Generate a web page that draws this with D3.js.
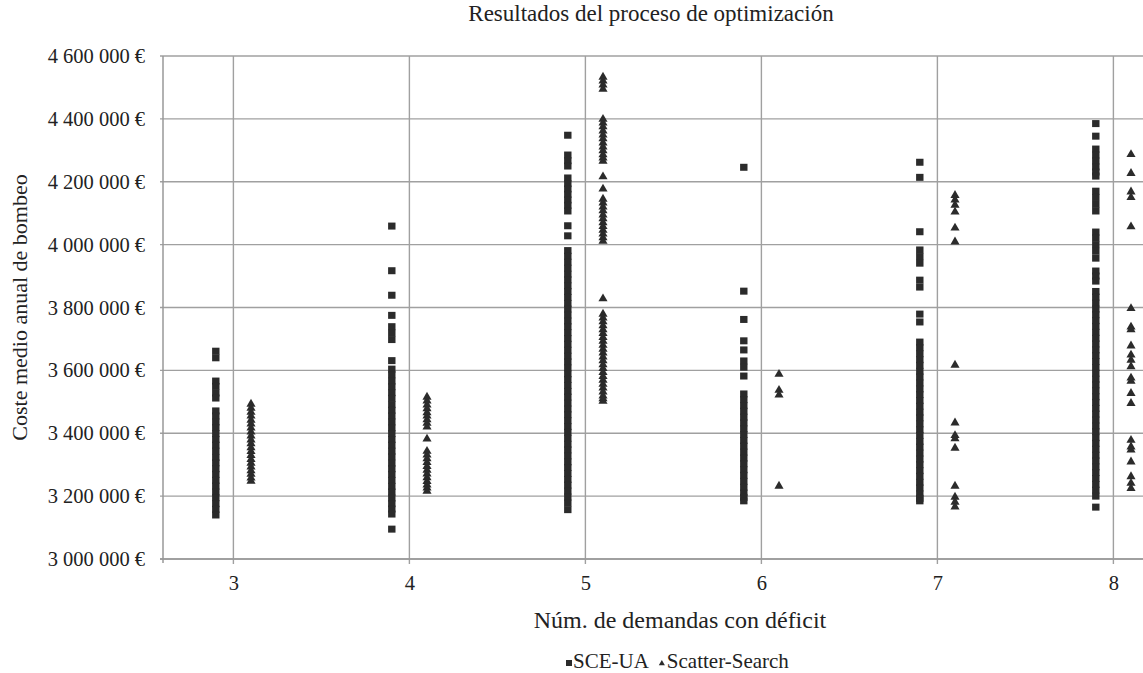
<!DOCTYPE html>
<html>
<head>
<meta charset="utf-8">
<script src="https://cdn.jsdelivr.net/npm/d3@7"></script>
<style>
  body { margin: 0; background: #fff; }
  text { font-family: "Liberation Serif", "Times New Roman", serif; fill: #222; }
</style>
</head>
<body>
<svg id="chart" width="1143" height="673"></svg>
<script>
// Values in thousands of euros
const categories = [3, 4, 5, 6, 7, 8];
const yTicks = [3000, 3200, 3400, 3600, 3800, 4000, 4200, 4400, 4600];

// SCE-UA is plotted a little left of each category, Scatter-Search a little right
const sceX = [2.9, 3.9, 4.9, 5.9, 6.9, 7.9];
const ssX = [3.1, 4.1, 5.1, 6.1, 7.1, 8.1];

const sce3 = [3661, 3640, 3566, 3549, 3528, 3512, 3471, 3455, 3436, 3418, 3399, 3380, 3362,
  3343, 3323, 3306, 3287, 3269, 3250, 3232, 3213, 3195, 3176, 3158, 3140];
const sce4 = [4059, 3917, 3839, 3775, 3739, 3719, 3698, 3631, 3604, 3586, 3566, 3548, 3529,
  3511, 3491, 3473, 3455, 3436, 3417, 3399, 3380, 3362, 3343, 3325, 3305, 3287, 3269, 3250,
  3231, 3213, 3194, 3176, 3159, 3143, 3095];
const sce5 = [4348, 4285, 4267, 4250, 4212, 4194, 4177, 4160, 4142, 4125, 4107, 4060, 4028,
  3981, 3963, 3944, 3925, 3906, 3888, 3869, 3851, 3832, 3813, 3795, 3776, 3757, 3739, 3720,
  3701, 3683, 3664, 3645, 3627, 3608, 3589, 3571, 3552, 3533, 3515, 3496, 3477, 3459, 3440,
  3421, 3403, 3384, 3365, 3347, 3328, 3309, 3291, 3272, 3253, 3235, 3216, 3197, 3178, 3157];
const sce6 = [4246, 3852, 3762, 3694, 3665, 3630, 3610, 3582, 3525, 3507, 3488, 3470, 3451,
  3433, 3414, 3396, 3377, 3359, 3340, 3321, 3303, 3284, 3266, 3247, 3228, 3210, 3196, 3185];
const sce7 = [4262, 4214, 4041, 3983, 3962, 3941, 3887, 3865, 3779, 3754, 3690, 3672, 3653,
  3634, 3616, 3597, 3579, 3560, 3541, 3523, 3504, 3486, 3467, 3449, 3430, 3411, 3393, 3374,
  3356, 3337, 3318, 3300, 3281, 3263, 3244, 3226, 3207, 3193, 3185];
const sce8 = [4385, 4345, 4304, 4285, 4266, 4247, 4231, 4218, 4170, 4150, 4128, 4107, 4040,
  4021, 4000, 3979, 3957, 3916, 3900, 3884, 3851, 3833, 3814, 3795, 3777, 3758, 3740, 3721,
  3702, 3684, 3665, 3647, 3628, 3609, 3591, 3572, 3554, 3535, 3516, 3498, 3479, 3461, 3442,
  3423, 3405, 3386, 3368, 3349, 3330, 3312, 3293, 3275, 3256, 3237, 3219, 3200, 3165];

const ss3 = [3493, 3480, 3467, 3455, 3442, 3430, 3417, 3404, 3392, 3379, 3367, 3354, 3342,
  3330, 3317, 3305, 3293, 3281, 3270, 3258, 3248];
const ss4 = [3515, 3503, 3490, 3478, 3466, 3455, 3443, 3432, 3420, 3382, 3343, 3331, 3319,
  3307, 3295, 3283, 3271, 3259, 3247, 3236, 3226, 3216];
const ss5 = [4533, 4521, 4508, 4495, 4399, 4387, 4375, 4362, 4349, 4337, 4324, 4311, 4299,
  4286, 4276, 4266, 4216, 4177, 4145, 4133, 4120, 4108, 4095, 4083, 4070, 4058, 4046, 4034,
  4022, 4011, 3828, 3779, 3767, 3755, 3742, 3730, 3718, 3705, 3693, 3680, 3668, 3656, 3643,
  3631, 3618, 3606, 3594, 3581, 3569, 3556, 3544, 3532, 3519, 3510, 3502];
const ss6 = [3588, 3537, 3522, 3232];
const ss7 = [4157, 4142, 4126, 4104, 4053, 4009, 3617, 3433, 3393, 3383, 3353, 3232, 3197,
  3181, 3166];
const ss8 = [4287, 4227, 4168, 4150, 4057, 3797, 3738, 3730, 3678, 3649, 3633, 3612, 3576,
  3566, 3527, 3495, 3378, 3357, 3347, 3309, 3262, 3241, 3225];

const sceValues = [sce3, sce4, sce5, sce6, sce7, sce8];
const ssValues = [ss3, ss4, ss5, ss6, ss7, ss8];

// Flatten into point lists
const scePoints = [];
sceValues.forEach(function (vals, i) {
  vals.forEach(function (v) { scePoints.push({ x: sceX[i], y: v }); });
});
const ssPoints = [];
ssValues.forEach(function (vals, i) {
  vals.forEach(function (v) { ssPoints.push({ x: ssX[i], y: v }); });
});

const svg = d3.select("#chart");
const serif = "'Liberation Serif', 'Times New Roman', serif";

// Plot box; the right side runs past the picture edge like the original
const plotLeft = 163, plotTop = 56, plotBottom = 559;
const x = d3.scaleLinear().domain([2.6, 8.4]).range([plotLeft, plotLeft + 5.8 * 176]);
const y = d3.scaleLinear().domain([3000, 4600]).range([plotBottom, plotTop]);

const fmt = function (d) {
  return d3.format(",")(d * 1000).replace(/,/g, " ") + " €";
};

// Grid lines
svg.append("g")
  .selectAll("line")
  .data(yTicks)
  .enter()
  .append("line")
  .attr("x1", plotLeft - 3)
  .attr("x2", 1143)
  .attr("y1", function (d) { return y(d); })
  .attr("y2", function (d) { return y(d); })
  .attr("stroke", "#a0a0a0")
  .attr("stroke-width", 1.4);

svg.append("g")
  .selectAll("line")
  .data(categories)
  .enter()
  .append("line")
  .attr("x1", function (d) { return x(d); })
  .attr("x2", function (d) { return x(d); })
  .attr("y1", plotTop)
  .attr("y2", plotBottom + 5)
  .attr("stroke", "#a0a0a0")
  .attr("stroke-width", 1.4);

// Axis lines
svg.append("line")
  .attr("x1", plotLeft).attr("x2", plotLeft)
  .attr("y1", plotTop).attr("y2", plotBottom + 4)
  .attr("stroke", "#999").attr("stroke-width", 1.5);
svg.append("line")
  .attr("x1", plotLeft - 3).attr("x2", 1143)
  .attr("y1", plotBottom).attr("y2", plotBottom)
  .attr("stroke", "#999").attr("stroke-width", 1.5);

// Tick labels
const yAxis = svg.append("g")
  .attr("transform", "translate(" + plotLeft + ",0)")
  .call(d3.axisLeft(y).tickValues(yTicks).tickFormat(fmt).tickSize(0).tickPadding(18));
yAxis.select(".domain").remove();
yAxis.selectAll("text")
  .style("font-family", serif)
  .style("font-size", "20.5px")
  .attr("fill", "#222");

const xAxis = svg.append("g")
  .attr("transform", "translate(0," + plotBottom + ")")
  .call(d3.axisBottom(x).tickValues(categories).tickFormat(d3.format("d")).tickSize(0).tickPadding(16));
xAxis.select(".domain").remove();
xAxis.selectAll("text")
  .style("font-family", serif)
  .style("font-size", "20.5px")
  .attr("fill", "#222");

// Markers
const markColor = "#2b2b2b";
svg.append("g")
  .selectAll("rect")
  .data(scePoints)
  .enter()
  .append("rect")
  .attr("x", function (d) { return x(d.x) - 3.7; })
  .attr("y", function (d) { return y(d.y) - 3.5; })
  .attr("width", 7.4)
  .attr("height", 7)
  .attr("fill", markColor);

const tri = d3.symbol().type(d3.symbolTriangle).size(36);
svg.append("g")
  .selectAll("path")
  .data(ssPoints)
  .enter()
  .append("path")
  .attr("d", tri)
  .attr("transform", function (d) {
    return "translate(" + x(d.x) + "," + y(d.y) + ")";
  })
  .attr("fill", markColor);

// Titles
svg.append("text")
  .attr("x", 651)
  .attr("y", 21)
  .style("text-anchor", "middle")
  .style("font-family", serif)
  .style("font-size", "23px")
  .text("Resultados del proceso de optimización");

svg.append("text")
  .attr("x", 680)
  .attr("y", 628)
  .style("text-anchor", "middle")
  .style("font-family", serif)
  .style("font-size", "24px")
  .text("Núm. de demandas con déficit");

svg.append("text")
  .attr("transform", "translate(27," + (plotTop + plotBottom) / 2 + ") rotate(-90)")
  .style("text-anchor", "middle")
  .style("font-family", serif)
  .style("font-size", "22px")
  .text("Coste medio anual de bombeo");

// Legend
const legend = svg.append("g").attr("transform", "translate(566,668)");
legend.append("rect")
  .attr("x", 0).attr("y", -8)
  .attr("width", 6).attr("height", 6)
  .attr("fill", markColor);
const t1 = legend.append("text")
  .attr("x", 7)
  .style("font-family", serif)
  .style("font-size", "21px")
  .text("SCE-UA");
const w1 = t1.node().getComputedTextLength();
legend.append("path")
  .attr("d", d3.symbol().type(d3.symbolTriangle).size(16))
  .attr("transform", "translate(" + (7 + w1 + 13) + ",-4.5)")
  .attr("fill", markColor);
legend.append("text")
  .attr("x", 7 + w1 + 18)
  .style("font-family", serif)
  .style("font-size", "21px")
  .text("Scatter-Search");
</script>
</body>
</html>
